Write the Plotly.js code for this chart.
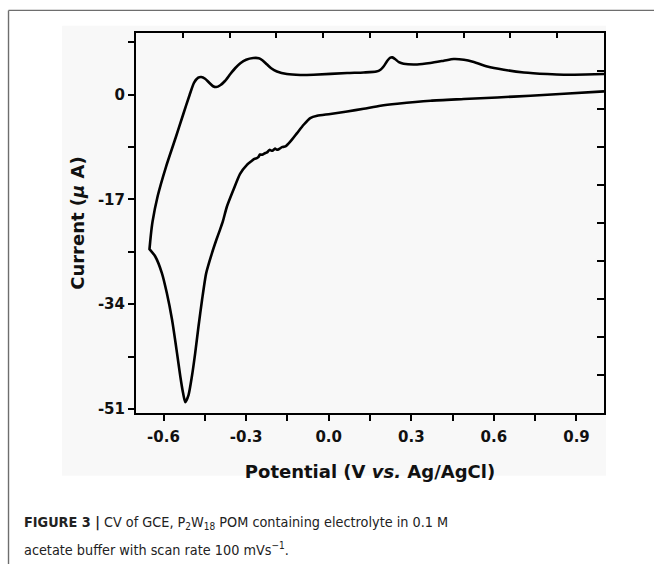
<!DOCTYPE html>
<html>
<head>
<meta charset="utf-8">
<script src="https://cdn.plot.ly/plotly-3.0.1.min.js"></script>
<style>html,body{margin:0;padding:0;background:#fff;overflow:hidden;}#chart{width:654px;height:564px;position:relative;}</style>
</head>
<body>
<div id="chart"></div>
<script>
// Cathodic branch (from +1.0 V back to the switching potential)
var cathodicPotential = [1.000,0.855,0.733,0.612,0.491,0.370,0.249,0.188,0.127,0.067,0.006,-0.042,-0.067,-0.091,-0.115,-0.139,-0.157,-0.170,-0.180,-0.188,-0.195,-0.205,-0.215,-0.224,-0.230,-0.242,-0.250,-0.255,-0.261,-0.270,-0.280,-0.297,-0.322,-0.346,-0.370,-0.384,-0.395,-0.408,-0.424,-0.445,-0.460,-0.473,-0.485,-0.497,-0.509,-0.521,-0.529,-0.539,-0.551,-0.569,-0.588,-0.606,-0.630,-0.651];
var cathodicCurrent   = [0.54,0.16,-0.16,-0.44,-0.70,-0.97,-1.46,-1.79,-2.27,-2.71,-3.13,-3.41,-3.78,-4.87,-6.22,-7.58,-8.39,-8.50,-8.80,-8.93,-8.75,-9.10,-8.95,-9.37,-9.45,-9.74,-9.70,-10.10,-10.28,-10.40,-10.75,-11.37,-12.83,-15.42,-18.18,-20.46,-21.92,-23.54,-25.70,-28.95,-33.28,-37.61,-41.93,-45.73,-48.70,-49.90,-48.42,-45.73,-41.93,-36.53,-32.19,-28.94,-26.25,-25.05];
// Anodic branch (from the switching potential up to +1.0 V)
var anodicPotential = [-0.651,-0.646,-0.640,-0.621,-0.591,-0.556,-0.529,-0.505,-0.489,-0.474,-0.463,-0.449,-0.434,-0.420,-0.409,-0.394,-0.376,-0.358,-0.340,-0.321,-0.300,-0.274,-0.254,-0.241,-0.225,-0.209,-0.188,-0.152,-0.103,-0.055,0.067,0.127,0.173,0.188,0.200,0.213,0.224,0.231,0.242,0.255,0.272,0.321,0.369,0.418,0.454,0.491,0.527,0.576,0.636,0.709,0.794,0.854,0.933,1.000];
var anodicCurrent   = [-25.05,-22.73,-20.62,-16.40,-11.69,-6.98,-3.25,0.00,1.95,2.76,2.87,2.60,1.95,1.38,1.25,1.54,2.27,3.33,4.30,5.11,5.68,5.96,5.93,5.60,4.95,4.30,3.78,3.36,3.21,3.25,3.52,3.62,3.77,4.06,4.63,5.52,6.01,6.06,5.76,5.28,5.03,4.92,5.15,5.52,5.80,5.68,5.31,4.59,4.06,3.62,3.36,3.25,3.28,3.36];

var xTickVals = [-0.6,-0.45,-0.3,-0.15,0,0.15,0.3,0.45,0.6,0.75,0.9];
var xTickText = ['-0.6','','-0.3','','0.0','','0.3','','0.6','','0.9'];
var yTickVals = [8.5,0,-8.5,-17,-25.5,-34,-42.5,-51];
var yTickText = ['','0','','-17','','-34','','-51'];
var frameTicks = [1,2,3,4,5,6,7,8,9];

var potential = cathodicPotential.concat(anodicPotential);
var current = cathodicCurrent.concat(anodicCurrent);

var traces = [{
  x: potential, y: current, type: 'scatter', mode: 'lines',
  line: {color: '#000', width: 2.6, shape: 'spline', smoothing: 0.6},
  hoverinfo: 'skip', showlegend: false
}, {
  x: [0], y: [0], xaxis: 'x2', yaxis: 'y2', type: 'scatter', mode: 'markers',
  marker: {opacity: 0}, hoverinfo: 'skip', showlegend: false
}];

var tickFont = {family: 'DejaVu Sans, Arial, sans-serif', size: 15, color: '#111', weight: 'bold'};
var titleFont = {family: 'DejaVu Sans, Arial, sans-serif', size: 18, color: '#111', weight: 'bold'};
var capFont = {family: 'DejaVu Sans Condensed, Liberation Sans Narrow, Liberation Sans, Arial, sans-serif', size: 14.3, color: '#222'};

var layout = {
  width: 654, height: 564,
  margin: {l: 136, r: 50, t: 33, b: 151},
  paper_bgcolor: '#ffffff', plot_bgcolor: '#f8f8f8', showlegend: false,
  xaxis: {
    range: [-0.7, 1.0], tickmode: 'array', tickvals: xTickVals, ticktext: xTickText,
    ticks: 'outside', ticklen: 6, tickwidth: 2, tickcolor: '#000', ticklabelstandoff: 3,
    ticklabeloverflow: 'allow',
    showline: true, linewidth: 2, linecolor: '#000', mirror: true,
    showgrid: false, zeroline: false, tickfont: tickFont,
    title: {text: '<b>Potential (V <i>vs.</i> Ag/AgCl)</b>', font: titleFont, standoff: 20}
  },
  yaxis: {
    range: [-51.65, 10.02], tickmode: 'array', tickvals: yTickVals, ticktext: yTickText,
    ticks: 'outside', ticklen: 6, tickwidth: 2, tickcolor: '#000',
    ticklabeloverflow: 'allow',
    showline: true, linewidth: 2, linecolor: '#000', mirror: true,
    showgrid: false, zeroline: false, tickfont: tickFont,
    title: {text: '<b>Current (<i>μ</i> A)</b>', font: titleFont, standoff: 9}
  },
  xaxis2: {
    overlaying: 'x', side: 'top', anchor: 'y', range: [0, 10], tickmode: 'array', tickvals: frameTicks,
    ticks: 'inside', ticklen: 5, tickwidth: 2, tickcolor: '#000', showticklabels: false,
    showline: false, showgrid: false, zeroline: false, fixedrange: true
  },
  yaxis2: {
    overlaying: 'y', side: 'right', anchor: 'x', range: [0, 10], tickmode: 'array', tickvals: frameTicks,
    ticks: 'inside', ticklen: 7, tickwidth: 2, tickcolor: '#000', showticklabels: false,
    showline: false, showgrid: false, zeroline: false, fixedrange: true
  },
  shapes: [
    {type: 'rect', xref: 'paper', yref: 'paper', x0: -0.158, x1: 1.0043, y0: -0.165, y1: 1.0192,
     fillcolor: '#f8f8f8', line: {width: 0}, layer: 'below'},
    {type: 'line', xref: 'paper', yref: 'paper', x0: -0.2724, x1: 1.11, y0: 1.0595, y1: 1.0595,
     line: {color: '#6e6e6e', width: 1.4}},
    {type: 'line', xref: 'paper', yref: 'paper', x0: -0.2724, x1: -0.2724, y0: 1.0595, y1: -0.40,
     line: {color: '#6e6e6e', width: 1.4}}
  ],
  annotations: [
    {xref: 'paper', yref: 'paper', x: -0.2436, y: -0.2887, xanchor: 'left', yanchor: 'middle', showarrow: false,
     text: '<b>FIGURE 3 |</b> CV of GCE, P<sub>2</sub>W<sub>18</sub> POM containing electrolyte in 0.1 M', font: capFont, align: 'left'},
    {xref: 'paper', yref: 'paper', x: -0.2436, y: -0.3571, xanchor: 'left', yanchor: 'middle', showarrow: false,
     text: 'acetate buffer with scan rate 100 mVs<sup>−1</sup>.', font: capFont, align: 'left'}
  ]
};

Plotly.newPlot('chart', traces, layout, {staticPlot: true, displayModeBar: false}).then(function(gd){
  // make sure no axis tick label stays hidden
  gd.querySelectorAll('.xtick text, .ytick text').forEach(function(t){
    t.style.display = '';
    t.removeAttribute('display');
    t.style.visibility = 'visible';
  });
});
</script>
</body>
</html>
